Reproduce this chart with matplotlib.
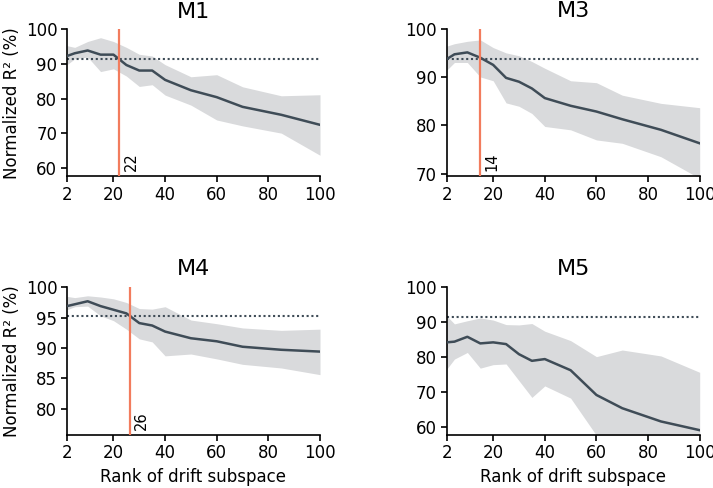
import matplotlib
matplotlib.use("Agg")
import matplotlib.pyplot as plt
import numpy as np

ranks = [2, 5, 10, 15, 20, 25, 30, 35, 40, 50, 60, 70, 85, 100]

titles = ["M1", "M3", "M4", "M5"]

m1_mean = [92.3, 93.1, 93.9, 92.7, 92.7, 89.7, 88.1, 88.1, 85.4, 82.4, 80.4, 77.6, 75.3, 72.4]
m1_hi = [95.3, 94.8, 96.5, 97.6, 96.5, 94.8, 92.8, 92.3, 89.8, 86.3, 86.9, 83.4, 80.8, 81.1]
m1_lo = [89.8, 91.5, 92.0, 87.8, 88.6, 86.5, 83.5, 84.0, 81.0, 78.1, 73.8, 72.1, 70.0, 63.6]

m3_mean = [93.8, 94.8, 95.2, 94.1, 92.6, 89.9, 89.1, 87.7, 85.7, 84.1, 82.9, 81.3, 79.1, 76.3]
m3_hi = [96.5, 97.0, 97.5, 97.8, 96.2, 95.1, 94.5, 93.3, 91.9, 89.3, 88.9, 86.3, 84.6, 83.7]
m3_lo = [91.5, 93.1, 93.1, 90.1, 89.3, 84.7, 84.0, 82.5, 79.8, 79.1, 77.0, 76.3, 73.5, 69.0]

m4_mean = [96.9, 97.2, 97.7, 96.9, 96.3, 95.7, 94.1, 93.7, 92.7, 91.6, 91.1, 90.2, 89.7, 89.4]
m4_hi = [98.5, 98.3, 98.6, 98.4, 98.1, 97.5, 96.5, 96.4, 96.8, 94.6, 94.0, 93.3, 92.9, 93.1]
m4_lo = [96.3, 96.8, 96.9, 95.3, 94.5, 93.1, 91.5, 91.0, 88.7, 89.0, 88.2, 87.3, 86.7, 85.6]

m5_mean = [84.2, 84.4, 85.8, 83.9, 84.2, 83.7, 80.8, 78.9, 79.4, 76.2, 69.1, 65.3, 61.5, 59.0]
m5_hi = [91.8, 89.5, 90.4, 91.2, 90.6, 89.3, 89.2, 89.6, 87.4, 84.7, 80.1, 82.0, 80.3, 75.6]
m5_lo = [76.5, 79.4, 81.3, 76.8, 77.8, 78.0, 73.2, 68.4, 71.7, 68.2, 57.5, 55.0, 53.0, 51.0]

means = [m1_mean, m3_mean, m4_mean, m5_mean]
his = [m1_hi, m3_hi, m4_hi, m5_hi]
los = [m1_lo, m3_lo, m4_lo, m5_lo]

baselines = [91.4, 93.8, 95.2, 91.5]
cut_pos = [22.3, 14.9, 26.3, None]
cut_labels = ["22", "14", "26", None]

ylims = [(57.6, 100), (69.5, 100), (75.7, 100), (57.7, 100)]
yticks = [[60, 70, 80, 90, 100], [70, 80, 90, 100], [80, 85, 90, 95, 100], [60, 70, 80, 90, 100]]
xticks = [2, 20, 40, 60, 80, 100]

W, H = 713, 488
fig = plt.figure(figsize=(W / 100, H / 100), dpi=100)

boxes = [
    (67, 29.4, 320, 176),
    (446.7, 29.3, 699.7, 176),
    (67, 287.3, 320, 434.7),
    (446.7, 287.3, 699.7, 434.7),
]

line_col = "#3f4c57"
band_col = "#d9dadc"
cut_col = "#f27c5d"

for i in range(4):
    l, t, r, b = boxes[i]
    ax = fig.add_axes([l / W, 1 - b / H, (r - l) / W, (b - t) / H])
    ax.fill_between(ranks, los[i], his[i], color=band_col, lw=0, zorder=1)
    ax.plot(ranks, means[i], color=line_col, lw=1.8, zorder=3)
    ax.plot([2, 100], [baselines[i], baselines[i]], color=line_col, lw=1.5,
            ls=(0, (1, 1.3)), zorder=2)
    if cut_pos[i] is not None:
        ax.axvline(cut_pos[i], color=cut_col, lw=1.6, zorder=4)
        ax.text(cut_pos[i] + 1.6, ylims[i][0] + (ylims[i][1] - ylims[i][0]) * 0.035,
                cut_labels[i], rotation=90, ha="left", va="bottom", fontsize=10.5)
    ax.set_xlim(2, 100)
    ax.set_ylim(*ylims[i])
    ax.set_xticks(xticks)
    ax.set_yticks(yticks[i])
    ax.spines["top"].set_visible(False)
    ax.spines["right"].set_visible(False)
    for s in ("left", "bottom"):
        ax.spines[s].set_linewidth(1.2)
    ax.tick_params(labelsize=12, width=1.2, length=4, pad=3)
    ax.set_title(titles[i], fontsize=16, pad=8.5)
    if i in (0, 2):
        ax.set_ylabel("Normalized R² (%)", fontsize=12, labelpad=3)
    if i in (2, 3):
        ax.set_xlabel("Rank of drift subspace", fontsize=12, labelpad=4)

fig.savefig("out.png", dpi=100)
